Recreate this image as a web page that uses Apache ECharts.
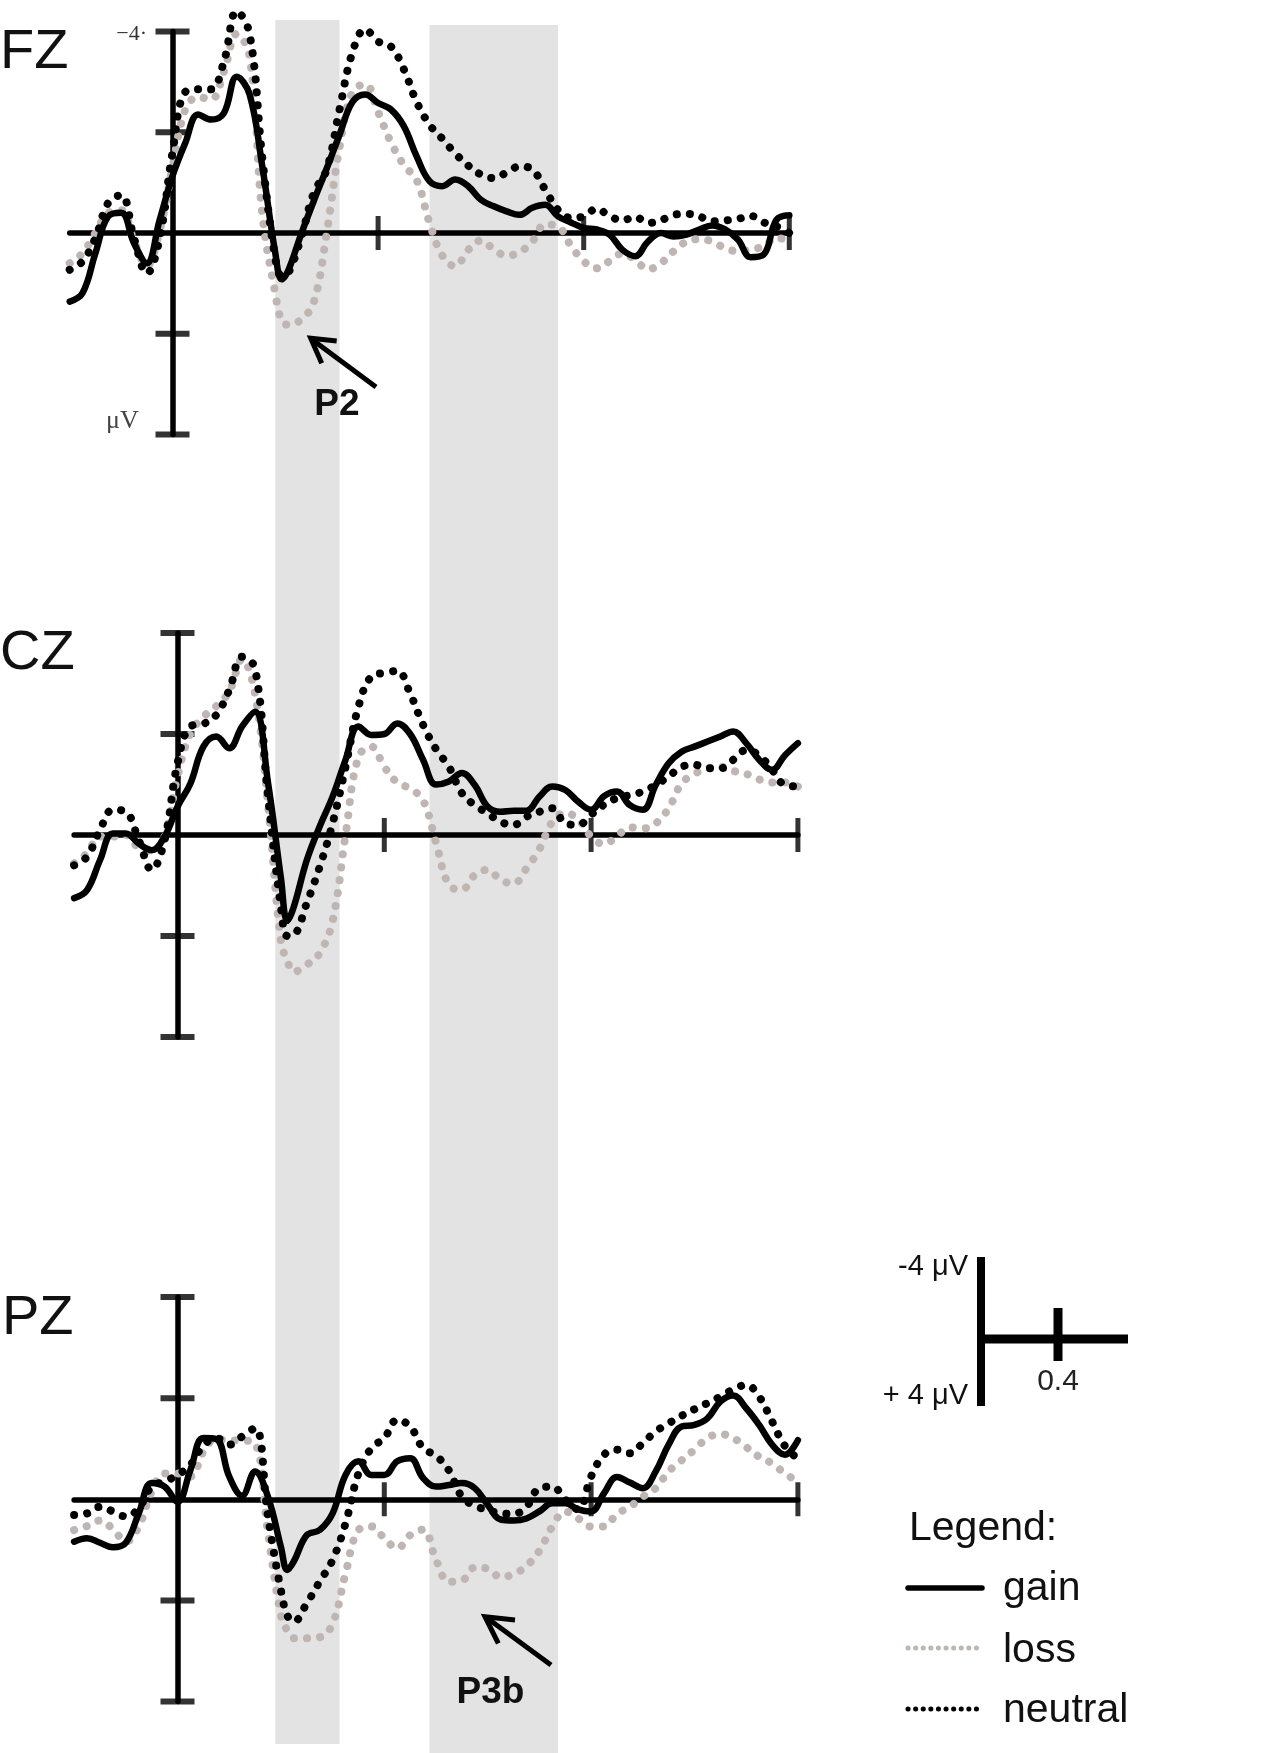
<!DOCTYPE html>
<html>
<head>
<meta charset="utf-8">
<script src="https://cdn.jsdelivr.net/npm/echarts@6/dist/echarts.min.js"></script>
<style>
html, body { margin: 0; padding: 0; background: #fff; }
#chart { width: 1267px; height: 1753px; }
</style>
</head>
<body>
<div id="chart"></div>
<script>
// time (s) of each sample, shared by all curves
const times = [-0.2,-0.175,-0.15,-0.125,-0.1,-0.075,-0.05,-0.025,0,0.025,0.05,0.075,0.1,0.125,0.15,0.175,0.2,0.2125,0.225,0.25,0.275,0.3,0.325,0.35,0.375,0.4,0.425,0.45,0.475,0.5,0.525,0.55,0.575,0.6,0.625,0.65,0.675,0.7,0.725,0.75,0.775,0.8,0.825,0.85,0.875,0.9,0.925,0.95,0.975,1.0,1.025,1.05,1.075,1.1,1.125,1.15,1.175,1.2];

// amplitudes in µV (negative plotted up)
const fzGain = [1.36,1.19,0.4,-0.33,-0.4,0.2,0.6,-0.26,-1.13,-1.79,-2.35,-2.25,-2.38,-3.1,-2.75,-1.3,0.4,0.92,0.75,0.03,-0.64,-1.28,-1.95,-2.6,-2.75,-2.58,-2.45,-2.12,-1.52,-1.03,-0.93,-1.06,-0.93,-0.66,-0.53,-0.43,-0.36,-0.5,-0.56,-0.33,-0.21,-0.1,-0.07,0.03,0.33,0.46,0.17,0,0.07,0.03,-0.07,-0.15,-0.07,0.13,0.48,0.43,-0.26,-0.35];
const fzLoss = [0.6,0.4,0.0,-0.4,-0.45,0.15,0.65,-0.05,-1.3,-2.45,-2.7,-2.65,-3.2,-3.95,-3.5,-0.35,1.2,1.75,1.82,1.72,1.37,0.0,-1.7,-2.8,-2.95,-2.4,-1.8,-1.35,-1.05,-0.2,0.45,0.66,0.34,0.15,0.32,0.45,0.38,0.17,-0.17,-0.13,0.25,0.56,0.7,0.56,0.41,0.53,0.72,0.6,0.36,0.17,0.12,0.17,0.3,0.36,0.33,0.26,0.1,0.15];
const fzNeutral = [0.73,0.56,0.1,-0.6,-0.75,0.1,0.8,0.1,-1.6,-2.8,-2.85,-2.85,-3.4,-4.4,-3.95,-1.46,0.5,0.85,0.8,0.1,-0.8,-1.26,-2.45,-3.58,-4.04,-3.8,-3.7,-3.25,-2.6,-2.15,-1.87,-1.58,-1.34,-1.16,-1.09,-1.2,-1.32,-1.26,-0.86,-0.46,-0.3,-0.33,-0.48,-0.34,-0.25,-0.32,-0.2,-0.25,-0.36,-0.38,-0.33,-0.23,-0.25,-0.28,-0.34,-0.21,-0.13,0];

const czGain = [1.25,1.09,0.5,-0.03,-0.03,0.17,0.3,0.03,-0.56,-1.02,-1.75,-1.95,-1.72,-2.15,-2.44,-1.04,0.85,1.7,1.42,0.5,-0.17,-0.76,-1.49,-2.15,-1.98,-2.0,-2.21,-2.0,-1.49,-1.0,-1.06,-1.23,-0.99,-0.56,-0.46,-0.48,-0.48,-0.76,-0.96,-0.89,-0.66,-0.5,-0.77,-0.86,-0.59,-0.5,-0.99,-1.42,-1.65,-1.75,-1.85,-1.95,-2.05,-1.82,-1.49,-1.29,-1.58,-1.82];
const czLoss = [0.56,0.36,0.03,0.03,0,0.26,0.33,0.03,-1.16,-2.01,-2.34,-2.55,-2.84,-3.48,-2.8,-0.6,2.1,2.5,2.71,2.57,2.34,1.7,0.0,-1.55,-1.75,-1.35,-1.04,-0.92,-0.69,0.15,0.99,1.08,0.79,0.69,0.89,0.96,0.66,0.28,-0.26,-0.44,-0.31,0.03,0.18,0.02,-0.15,-0.13,-0.23,-0.53,-1.02,-1.21,-1.32,-1.35,-1.27,-1.21,-1.1,-1.04,-1.04,-0.96];
const czNeutral = [0.6,0.43,-0.1,-0.5,-0.46,0.1,0.69,0.1,-1.42,-2.15,-2.2,-2.38,-2.87,-3.53,-3.3,-0.76,1.42,2.0,1.98,1.35,0.63,-0.23,-1.35,-2.54,-3.14,-3.21,-3.25,-2.8,-2.18,-1.7,-1.35,-0.83,-0.59,-0.43,-0.26,-0.2,-0.36,-0.46,-0.53,-0.23,-0.2,-0.4,-0.6,-0.73,-0.79,-0.86,-0.99,-1.16,-1.35,-1.39,-1.32,-1.32,-1.49,-1.68,-1.58,-1.29,-0.99,-0.96];

const pzGain = [0.84,0.77,0.86,0.95,0.86,0.28,-0.32,-0.25,0.05,-0.58,-1.21,-1.19,-0.45,-0.07,-0.55,-0.05,0.94,1.4,1.23,0.71,0.61,0.28,-0.48,-0.75,-0.48,-0.48,-0.75,-0.81,-0.42,-0.25,-0.28,-0.32,-0.22,0.11,0.4,0.42,0.38,0.24,0.08,0.08,0.2,0.24,-0.12,-0.44,-0.33,-0.22,-0.55,-1.08,-1.44,-1.47,-1.6,-1.93,-2.05,-1.8,-1.47,-1.08,-0.88,-1.17];
const pzLoss = [0.61,0.53,0.42,0.59,0.84,0.54,-0.15,-0.51,-0.51,-0.45,-0.94,-1.19,-1.16,-1.16,-1.11,0.67,2.29,2.6,2.75,2.75,2.73,2.46,1.47,0.61,0.54,0.77,0.97,0.71,0.6,1.2,1.63,1.61,1.35,1.37,1.54,1.48,1.32,1.02,0.54,0.24,0.38,0.54,0.54,0.29,0.15,-0.05,-0.22,-0.55,-0.77,-0.98,-1.21,-1.29,-1.21,-1.03,-0.84,-0.71,-0.51,-0.35];
const pzNeutral = [0.31,0.28,0.15,0.24,0.34,0.18,-0.25,-0.35,-0.48,-0.68,-1.06,-1.21,-1.08,-1.24,-1.41,0.34,1.8,2.3,2.42,2.06,1.63,1.2,0.48,-0.51,-1.01,-1.21,-1.57,-1.44,-1.01,-0.86,-0.57,-0.05,0.13,0.21,0.28,0.29,0.15,-0.22,-0.25,0.01,0.2,-0.45,-0.88,-0.98,-0.91,-1.11,-1.34,-1.5,-1.65,-1.78,-1.9,-2.03,-2.17,-2.26,-2.03,-1.54,-1.05,-0.8];

// analysis windows (s)
const bandStart = [0.2, 0.5];
const bandEnd = [0.325, 0.75];

// axis tick positions
const yTicks = [-4, -2, 2, 4];
const xTicks = [0.4, 0.8, 1.2];

const panels = [
  { label: 'FZ', gain: fzGain, loss: fzLoss, neutral: fzNeutral },
  { label: 'CZ', gain: czGain, loss: czLoss, neutral: czNeutral },
  { label: 'PZ', gain: pzGain, loss: pzLoss, neutral: pzNeutral }
];

const grids = [
  { left: 69.7, top: 31.4, width: 719.6, height: 403.2 },
  { left: 74.1, top: 633, width: 723.8, height: 404 },
  { left: 74.1, top: 1297, width: 723.8, height: 404.5 },
  { left: 69.7, top: 0, width: 719.6, height: 1753 } // layer for the shaded windows
];

const SANS = '"Liberation Sans", Arial, sans-serif';
const SERIF = '"Liberation Serif", "Times New Roman", serif';
const GRAY = '#bfb6b4';

const axisLine = { onZero: true, lineStyle: { color: '#000', width: 5.5 } };

const xAxis = grids.map((g, i) => ({
  gridIndex: i, type: 'value', min: -0.2, max: 1.2, show: i < 3, z: 3,
  axisLine: axisLine, axisTick: { show: false }, axisLabel: { show: false }, splitLine: { show: false }
}));
const yAxis = grids.map((g, i) => ({
  gridIndex: i, type: 'value', inverse: true, show: i < 3, z: 3,
  min: i < 3 ? -4 : 0, max: i < 3 ? 4 : 1753,
  axisLine: axisLine, axisTick: { show: false }, axisLabel: { show: false }, splitLine: { show: false }
}));

const series = [];

// shaded windows running through all panels
series.push({
  type: 'custom', xAxisIndex: 3, yAxisIndex: 3, z: 1, silent: true,
  data: bandStart.map((s, i) => [s, bandEnd[i], 0]),
  encode: { x: [0, 1], y: 2 },
  renderItem: function (params, api) {
    const top = params.dataIndex === 0 ? 20 : 25;
    const bottom = params.dataIndex === 0 ? 1744 : 1753;
    const p0 = api.coord([api.value(0), top]);
    const p1 = api.coord([api.value(1), bottom]);
    return { type: 'rect', shape: { x: p0[0], y: p0[1], width: p1[0] - p0[0], height: p1[1] - p0[1] },
             style: { fill: '#e3e3e3' } };
  }
});

function curve(name, vals, gi, lineStyle, z) {
  return {
    type: 'line', name: name, xAxisIndex: gi, yAxisIndex: gi,
    data: times.map((t, i) => [t, vals[i]]),
    smooth: 0.4, symbol: 'none', clip: false, silent: true, z: z,
    lineStyle: lineStyle
  };
}

panels.forEach((p, gi) => {
  series.push(curve('loss', p.loss, gi, { color: GRAY, width: 8, type: [0.1, 13], cap: 'round' }, 4));
  series.push(curve('neutral', p.neutral, gi, { color: '#000', width: 8, type: [0.1, 13], cap: 'round' }, 5));
  series.push(curve('gain', p.gain, gi, { color: '#000', width: 6.5, cap: 'round', join: 'round' }, 6));
  series.push({
    type: 'scatter', xAxisIndex: gi, yAxisIndex: gi, silent: true, clip: false, z: 3,
    symbol: 'rect', symbolSize: [34, 6], itemStyle: { color: '#000' },
    data: yTicks.map(v => [0, v])
  });
  series.push({
    type: 'scatter', xAxisIndex: gi, yAxisIndex: gi, silent: true, clip: false, z: 3,
    symbol: 'rect', symbolSize: [5, 34], itemStyle: { color: '#000' },
    data: xTicks.map(t => [t, 0])
  });
});

function text(str, x, y, font, align, fill) {
  return { type: 'text', x: x, y: y, z: 10, silent: true,
    style: { text: str, font: font, fill: fill || '#111', textAlign: align, align: align,
             textVerticalAlign: 'middle', verticalAlign: 'middle' } };
}
function seg(x1, y1, x2, y2, w, extra) {
  return { type: 'line', z: 10, silent: true, shape: { x1: x1, y1: y1, x2: x2, y2: y2 },
    style: Object.assign({ stroke: '#000', lineWidth: w }, extra || {}) };
}
function chevron(points) {
  return { type: 'polyline', z: 10, silent: true, shape: { points: points },
    style: { stroke: '#000', lineWidth: 5, fill: null, lineJoin: 'miter' } };
}

const graphic = [
  text('FZ', 0, 52.6, '56px ' + SANS, 'left'),
  text('CZ', 0, 653.6, '56px ' + SANS, 'left'),
  text('PZ', 2, 1318.6, '56px ' + SANS, 'left'),
  text('\u22124\u00b7', 147, 34, '22px ' + SERIF, 'right', '#333'),
  text('\u03bcV', 106, 421, '26px ' + SERIF, 'left', '#444'),
  // P2 annotation
  text('P2', 337, 404.5, 'bold 37px ' + SANS, 'center'),
  seg(376, 387, 312, 339.5, 5),
  chevron([[336.7, 341], [310.7, 338.3], [321.7, 363.3]]),
  // P3b annotation
  text('P3b', 490.5, 1692.5, 'bold 37px ' + SANS, 'center'),
  seg(551, 1665, 487, 1618, 5),
  chevron([[515, 1620], [485, 1616.7], [498.3, 1643.3]]),
  // scale bar
  seg(981, 1257, 981, 1406, 8),
  seg(981, 1339, 1128, 1339, 9),
  seg(1058, 1308, 1058, 1361, 9),
  text('-4 \u03bcV', 968, 1267, '29px ' + SANS, 'right'),
  text('+ 4 \u03bcV', 968, 1395.6, '29px ' + SANS, 'right'),
  text('0.4', 1058, 1382, '30px ' + SANS, 'center', '#222'),
  // legend
  text('Legend:', 909, 1529, '41px ' + SANS, 'left'),
  seg(908, 1588, 982, 1588, 5.5, { lineCap: 'round' }),
  text('gain', 1003, 1589, '41px ' + SANS, 'left'),
  seg(908, 1648, 982, 1648, 5, { stroke: GRAY, lineCap: 'round', lineDash: [0.1, 7.5] }),
  text('loss', 1003, 1651, '41px ' + SANS, 'left'),
  seg(908, 1709, 982, 1709, 5, { lineCap: 'round', lineDash: [0.1, 7.5] }),
  text('neutral', 1003, 1711, '41px ' + SANS, 'left')
];

const chart = echarts.init(document.getElementById('chart'), null, { renderer: 'canvas' });
chart.setOption({
  animation: false,
  backgroundColor: '#fff',
  grid: grids,
  xAxis: xAxis,
  yAxis: yAxis,
  series: series,
  graphic: graphic
});
</script>
</body>
</html>
